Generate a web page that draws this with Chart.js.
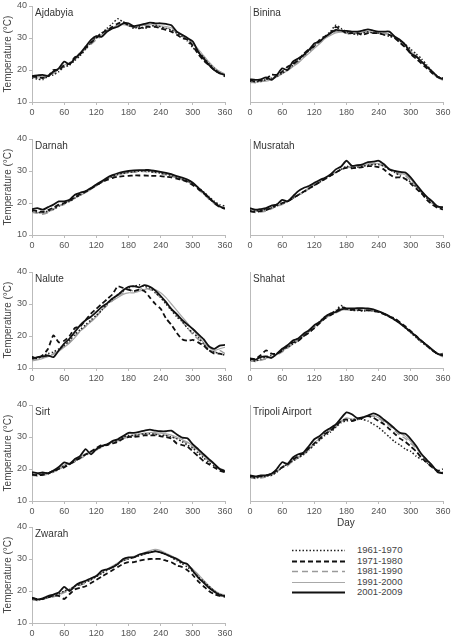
<!DOCTYPE html>
<html>
<head>
<meta charset="utf-8">
<script src="https://cdn.jsdelivr.net/npm/chart.js@4.4.1/dist/chart.umd.min.js"></script>
<style>
  body { margin: 0; background: #fff; width: 453px; height: 639px; position: relative; overflow: hidden;
         font-family: "Liberation Sans", Arial, sans-serif; color: #333; }
  canvas { position: absolute; }
  .name { position: absolute; font-size: 10px; line-height: 12px; color: #333; white-space: nowrap; }
  .day { position: absolute; font-size: 10px; color: #333; }
  .legend { position: absolute; left: 290px; top: 545px; width: 140px; font-size: 9.5px; color: #444; }
  .legend div { height: 10.5px; line-height: 10.5px; position: relative; }
  .legend svg { position: absolute; left: 0; top: 0; }
  .legend span { position: absolute; left: 67px; top: 0; white-space: nowrap; }
</style>
</head>
<body>
<div class="legend" id="legend"></div>
<script>
const days = [0,10,20,30,40,50,60,70,80,90,100,110,120,130,140,150,160,170,180,190,200,210,220,230,240,250,260,270,280,290,300,310,320,330,340,350,360];
const periods = ['1961-1970', '1971-1980', '1981-1990', '1991-2000', '2001-2009'];

// Ajdabyia
const ajd1961 = [17.5,17.2,17.0,18.0,18.5,19.5,21.0,21.5,23.0,24.5,26.5,28.5,30.5,31.5,33.0,34.5,36.0,35.0,34.0,33.0,33.5,33.0,33.5,34.0,33.5,33.0,32.5,31.5,30.5,29.0,27.0,25.5,24.0,22.0,20.5,19.0,18.5];
const ajd1971 = [18.0,17.8,17.5,18.0,20.0,20.0,21.5,22.0,24.0,25.0,27.0,28.5,30.0,31.5,32.5,33.5,34.5,35.0,34.0,33.5,33.0,33.5,33.5,33.5,33.0,32.5,32.0,31.0,30.0,29.5,27.5,25.0,23.0,21.5,20.0,19.0,18.0];
const ajd1981 = [17.8,17.5,17.8,18.2,19.0,20.0,21.0,22.0,23.5,25.5,26.5,28.0,29.5,30.5,32.0,33.0,34.0,34.5,34.0,33.5,33.5,34.0,34.0,33.5,33.5,33.0,33.0,31.5,30.5,29.5,28.0,26.0,24.0,22.0,20.5,19.5,18.5];
const ajd1991 = [17.6,17.8,18.0,18.4,19.2,20.2,21.5,22.3,23.2,24.8,26.8,28.8,30.0,31.0,32.5,33.2,34.0,34.2,33.8,33.2,33.8,34.0,34.2,34.0,33.8,33.6,33.2,32.0,30.8,29.8,28.2,26.5,24.5,22.5,20.8,19.5,18.8];
const ajd2001 = [18.1,18.3,18.5,18.1,19.5,20.5,22.6,21.8,23.6,25.2,27.3,29.4,30.6,30.4,32.0,33.0,33.5,34.6,34.6,33.7,34.0,34.4,34.8,34.6,34.6,34.4,34.0,32.0,31.0,30.0,28.9,25.7,23.6,21.6,20.0,19.0,18.4];

// Binina
const bin1961 = [16.5,16.3,16.5,17.0,17.5,18.0,19.0,20.0,21.5,23.0,24.5,26.0,27.5,29.0,30.5,32.0,34.0,33.0,32.0,31.5,31.0,31.5,32.0,31.5,31.5,31.0,30.5,30.0,29.0,28.0,26.5,25.0,23.5,21.5,19.5,18.0,17.5];
const bin1971 = [16.8,16.5,16.8,17.2,18.5,18.5,19.5,21.0,22.0,23.0,25.0,26.5,27.5,29.5,30.5,31.5,33.5,32.5,31.5,31.5,31.5,31.0,31.5,31.5,31.5,31.0,31.0,30.0,28.5,27.0,25.0,23.5,22.0,20.5,19.0,17.8,17.2];
const bin1981 = [16.2,16.0,16.3,16.8,17.2,18.0,19.2,20.2,21.2,22.5,24.0,25.5,27.2,28.5,30.0,31.2,32.0,32.0,31.5,31.2,31.5,32.0,32.0,31.8,31.5,31.5,31.2,30.5,29.2,27.8,26.0,24.5,22.8,21.0,19.2,17.8,17.0];
const bin1991 = [16.0,16.2,16.4,16.5,17.0,17.8,18.8,19.8,21.0,22.2,23.8,25.2,26.8,28.2,29.8,30.8,31.6,31.8,31.6,31.4,31.6,31.8,31.9,31.8,31.6,31.4,31.0,30.2,29.0,27.5,25.8,24.2,22.5,20.8,19.0,17.6,16.8];
const bin2001 = [17.1,16.9,17.1,17.7,16.9,18.4,20.5,20.0,22.6,23.6,24.7,26.3,28.3,28.9,30.4,31.5,32.5,32.3,32.2,32.0,32.0,32.3,32.7,32.3,32.0,32.0,32.0,30.4,29.4,27.8,25.2,24.2,22.6,21.0,19.5,17.9,17.1];

// Darnah
const dar1961 = [17.5,17.2,17.0,17.5,18.0,19.0,19.8,20.5,21.5,22.5,23.5,24.5,25.5,26.5,27.5,28.3,29.0,29.3,29.5,29.8,30.0,30.0,29.8,29.6,29.3,29.0,28.6,28.0,27.4,26.8,26.0,24.8,23.5,22.0,20.5,19.5,19.0];
const dar1971 = [17.8,17.5,17.2,17.8,18.5,19.5,20.0,20.8,21.8,22.8,23.5,24.5,25.5,26.5,27.2,27.8,28.2,28.4,28.5,28.6,28.6,28.6,28.5,28.5,28.4,28.2,28.0,27.6,27.2,26.6,25.6,24.4,23.0,21.5,20.0,18.8,18.2];
const dar1981 = [17.2,16.8,16.5,17.0,18.0,19.0,19.5,20.5,21.5,22.5,23.5,24.5,25.5,26.5,27.5,28.2,28.8,29.2,29.5,29.6,29.8,29.8,29.6,29.5,29.2,28.8,28.4,27.8,27.2,26.5,25.5,24.2,22.8,21.2,19.8,18.8,18.2];
const dar1991 = [17.0,17.0,16.8,17.2,18.2,19.2,19.8,20.6,21.6,22.4,23.2,24.2,25.4,26.4,27.4,28.2,28.8,29.4,29.6,29.9,30.0,30.0,29.9,29.8,29.5,29.1,28.7,28.1,27.5,26.9,25.9,24.6,23.1,21.6,20.1,19.0,18.4];
const dar2001 = [18.1,18.4,17.9,18.7,19.5,20.5,20.5,21.0,22.6,23.2,23.7,24.7,25.8,26.8,27.9,28.7,29.3,29.7,30.0,30.2,30.3,30.3,30.3,30.0,29.7,29.4,29.0,28.4,27.9,27.3,26.3,24.8,23.3,21.7,20.2,18.9,18.3];

// Musratah
const mus1961 = [17.8,17.5,17.8,18.0,18.5,19.0,19.8,20.5,21.5,22.5,23.5,24.5,25.5,26.5,27.5,28.5,29.5,30.5,31.5,31.0,31.2,31.5,31.8,32.0,32.0,31.5,30.5,29.5,28.5,27.5,26.5,25.0,23.0,21.5,20.0,19.0,18.5];
const mus1971 = [17.5,17.2,17.5,17.8,18.5,19.5,20.0,20.5,21.5,22.5,23.5,24.5,25.5,26.5,27.5,28.5,29.5,30.5,31.0,30.8,31.0,31.2,31.5,31.5,31.2,30.5,29.0,28.0,28.0,27.5,26.0,24.5,23.0,21.0,19.5,18.5,18.0];
const mus1981 = [17.2,17.0,17.2,17.5,18.2,19.0,19.5,20.5,21.5,22.5,23.2,24.5,25.8,26.8,27.8,28.8,29.8,30.5,31.0,31.2,31.5,31.8,32.0,32.2,32.0,31.5,30.5,29.5,29.0,28.5,27.0,25.0,23.2,21.5,20.0,18.8,18.2];
const mus1991 = [17.6,17.4,17.6,17.9,18.4,19.2,19.8,20.4,21.4,22.6,23.6,24.8,25.8,26.8,27.8,28.6,29.6,30.4,31.2,31.4,31.6,31.9,32.2,32.4,32.3,31.8,30.8,30.0,29.4,28.8,27.4,25.4,23.6,21.8,20.2,19.0,18.4];
const mus2001 = [18.4,17.9,18.1,18.4,19.2,19.5,21.0,20.5,22.1,23.7,24.7,25.3,26.3,27.2,27.9,28.9,30.5,31.4,33.2,31.6,31.8,32.1,32.8,32.9,33.2,32.1,30.5,30.0,29.7,29.5,27.9,25.8,23.7,21.9,20.5,18.9,18.7];

// Nalute
const nal1961 = [13.5,13.0,13.8,14.5,15.0,16.0,17.0,18.5,20.5,22.0,23.5,25.0,26.5,28.0,30.0,31.5,33.0,34.0,35.0,35.5,36.0,35.5,35.0,33.5,32.0,30.0,28.0,26.0,24.5,22.5,21.0,19.5,17.5,15.5,15.0,14.5,14.0];
const nal1971 = [13.5,13.0,14.0,16.0,20.2,18.0,18.5,20.0,22.5,23.0,25.0,27.0,28.5,30.0,31.5,33.0,35.5,35.0,34.5,34.0,34.5,34.0,32.0,30.0,28.5,25.5,23.5,21.0,19.0,18.5,18.8,18.0,17.0,15.5,14.5,14.5,14.0];
const nal1981 = [12.5,12.8,13.2,13.8,14.5,15.5,16.8,18.0,20.0,21.5,23.0,24.5,26.0,28.0,29.5,31.0,32.5,33.5,34.5,34.0,34.5,35.0,34.5,33.5,32.0,30.5,28.5,26.5,24.5,22.5,20.5,19.0,17.5,16.0,15.0,15.5,14.5];
const nal1991 = [12.2,12.5,13.0,13.5,14.2,15.2,16.5,17.8,19.5,21.5,23.0,24.5,26.0,28.5,30.0,31.0,32.0,33.0,33.5,33.5,34.0,34.5,35.0,34.5,33.5,32.0,30.0,28.0,26.0,24.0,22.0,20.0,18.0,16.5,15.5,16.0,16.5];
const nal2001 = [12.9,13.4,13.6,13.9,13.4,15.5,17.6,19.2,21.3,23.4,24.9,26.0,27.5,29.1,30.2,31.7,32.8,34.3,35.4,35.6,35.2,35.9,35.4,34.2,32.5,30.6,28.4,26.8,25.0,23.6,22.2,20.6,19.0,16.8,16.0,17.0,17.2];

// Shahat
const sha1961 = [12.5,12.2,12.8,13.5,14.0,14.5,15.5,16.5,17.5,18.5,20.0,21.5,23.0,24.5,26.0,27.0,28.0,29.5,28.5,28.0,28.0,27.8,28.0,27.8,27.5,27.0,26.0,25.0,24.0,22.5,21.0,19.5,18.0,17.0,15.5,14.5,14.5];
const sha1971 = [13.0,12.8,14.0,15.5,14.5,14.5,15.5,17.0,18.0,18.5,20.0,21.0,22.5,24.0,25.5,26.5,27.5,29.0,28.5,28.2,28.2,28.0,28.0,27.8,27.5,26.8,26.0,25.5,24.2,23.0,21.5,20.0,18.5,17.0,15.5,14.5,14.0];
const sha1981 = [12.2,12.0,12.4,12.8,13.2,14.0,15.0,16.2,17.5,18.5,19.8,21.0,22.5,24.0,25.5,26.5,27.2,28.0,28.2,28.0,28.2,28.3,28.2,28.0,27.5,26.8,26.0,25.0,23.8,22.5,21.0,19.5,18.0,16.8,15.5,14.2,13.5];
const sha1991 = [12.0,12.2,12.5,13.0,13.5,14.2,15.2,16.5,17.8,18.8,20.0,21.2,22.8,24.2,25.6,26.6,27.4,28.0,28.4,28.4,28.6,28.6,28.4,28.2,27.6,27.0,26.2,25.2,24.0,22.8,21.4,20.0,18.6,17.2,15.8,14.6,14.0];
const sha2001 = [12.9,12.6,13.4,13.6,13.2,14.4,16.0,17.1,18.6,19.2,20.7,21.8,23.4,24.4,26.0,27.0,27.5,28.3,28.6,28.6,28.7,28.7,28.6,28.3,27.7,27.0,26.2,25.1,23.9,22.6,21.3,19.9,18.4,17.1,15.7,14.4,13.9];

// Sirt
const sir1961 = [18.5,18.2,18.5,18.8,19.2,20.0,21.0,21.5,22.5,23.5,24.5,25.5,26.0,27.0,27.5,28.5,29.0,30.0,30.5,30.5,30.8,31.0,31.0,30.8,30.5,30.5,30.0,29.5,28.5,27.5,26.5,25.0,23.5,22.0,21.0,20.0,19.5];
const sir1971 = [18.2,18.0,18.2,18.5,19.5,20.0,20.5,21.5,22.5,23.5,24.5,25.5,26.5,27.5,27.5,28.0,28.5,29.5,30.0,30.0,30.2,30.5,30.5,30.5,30.2,30.0,29.5,28.0,27.5,27.0,25.5,24.0,22.5,21.5,20.5,19.5,19.0];
const sir1981 = [18.0,17.8,18.0,18.4,19.0,19.8,20.8,21.5,22.2,23.2,24.2,25.2,26.0,26.8,27.5,28.2,28.8,29.5,30.0,30.2,30.5,30.8,31.0,31.0,30.8,30.5,30.2,29.5,28.8,28.0,26.8,25.5,24.0,22.5,21.0,19.8,19.2];
const sir1991 = [18.4,18.3,18.5,18.6,19.2,20.2,21.2,21.8,22.8,23.8,24.8,25.4,26.2,27.0,27.6,28.4,29.0,29.8,30.4,30.6,30.9,31.2,31.4,31.4,31.2,31.0,30.6,30.0,29.2,28.4,27.2,25.8,24.2,22.8,21.4,20.2,19.6];
const sir2001 = [19.0,18.7,18.9,18.7,19.5,20.6,22.1,21.6,23.1,24.1,26.2,24.6,26.2,27.2,27.7,28.7,29.3,30.3,31.3,31.3,31.6,32.0,32.3,32.0,31.8,31.8,32.0,30.8,29.8,29.6,27.7,26.2,24.6,23.1,21.6,20.0,19.3];

// Tripoli Airport
const tri1961 = [17.5,17.2,17.5,17.8,18.0,19.0,20.5,21.5,22.5,23.5,24.5,26.0,27.5,29.0,30.5,31.5,33.0,34.5,35.0,35.5,35.5,35.5,35.0,34.0,33.0,31.5,30.0,28.5,27.5,26.2,25.5,24.0,23.0,22.0,20.5,19.5,20.0];
const tri1971 = [17.8,17.5,17.8,18.0,18.5,19.5,20.5,21.5,23.0,24.0,25.0,26.5,28.0,29.5,31.0,32.0,33.5,35.0,35.5,35.0,35.5,36.0,36.5,36.0,35.0,34.0,32.5,31.0,29.5,28.5,27.0,25.5,23.5,22.0,20.5,19.5,19.0];
const tri1981 = [17.2,17.0,17.2,17.5,18.0,19.0,20.5,21.0,22.5,23.5,24.5,26.0,27.8,29.2,30.8,32.0,33.2,34.8,35.5,35.2,35.5,36.0,36.5,36.5,35.8,34.8,33.5,32.0,30.5,29.5,28.0,26.5,24.5,22.5,20.8,19.2,18.5];
const tri1991 = [17.4,17.3,17.5,17.8,18.2,19.2,20.8,21.4,22.8,23.8,24.8,26.4,28.2,29.6,31.0,32.2,33.4,35.0,36.0,35.6,35.6,36.2,36.8,36.8,36.0,35.0,33.8,32.4,31.2,30.2,28.6,26.8,24.8,22.8,21.0,19.4,18.8];
const tri2001 = [18.0,17.7,18.0,18.0,18.5,20.0,22.1,21.6,23.6,24.6,25.2,27.2,29.3,30.3,31.8,32.8,33.9,35.9,37.7,37.1,35.9,36.1,36.7,37.4,36.7,35.4,34.1,32.6,31.3,31.0,29.3,27.2,24.6,22.8,21.1,19.0,18.7];

// Zwarah
const zwa1961 = [17.5,17.2,17.5,18.0,18.5,19.0,20.0,20.5,21.5,22.0,22.8,23.5,24.5,25.5,26.5,27.5,28.5,29.5,30.0,30.5,31.0,31.5,32.0,32.5,32.0,31.5,30.5,29.5,28.5,27.5,26.0,24.5,23.0,21.5,20.0,19.0,18.5];
const zwa1971 = [17.8,17.5,17.5,18.0,18.5,18.5,17.5,19.0,20.5,21.0,21.5,22.5,23.5,24.5,25.5,26.5,27.5,28.5,29.0,29.0,29.5,29.8,30.0,30.0,30.0,29.5,29.0,28.0,27.5,26.5,25.0,23.0,21.5,20.0,19.0,18.5,18.2];
const zwa1981 = [17.2,17.0,17.4,17.8,18.2,18.8,19.5,20.2,21.0,21.8,22.5,23.5,24.5,25.5,26.5,27.5,28.5,29.5,30.0,30.5,31.0,31.5,32.0,32.5,32.2,31.5,30.8,30.0,29.0,28.0,26.8,25.0,23.2,21.5,20.0,19.0,18.5];
const zwa1991 = [17.4,17.2,17.5,17.9,18.4,19.0,19.8,20.6,21.4,22.2,23.0,23.8,24.8,25.8,26.8,27.8,28.8,29.8,30.4,30.8,31.4,32.0,32.6,33.0,32.6,31.8,31.0,30.2,29.2,28.2,26.8,25.2,23.4,21.6,20.2,19.2,18.8];
const zwa2001 = [17.9,17.4,17.7,18.4,18.9,19.5,21.3,20.0,21.6,22.6,23.2,24.0,24.7,26.3,26.8,27.4,28.4,30.0,30.5,30.5,31.4,31.8,32.1,32.4,32.1,31.4,30.7,30.0,28.9,28.4,26.3,24.2,22.6,21.0,19.8,18.7,18.4];

const yTicks = [10, 20, 30, 40];
const xTicks = [0, 60, 120, 180, 240, 300, 360];

// line style per period: dotted, dashed black, dashed grey, grey, black
const styles = [
  { color: '#222', width: 1.5, dash: [1.5, 2], order: 2 },
  { color: '#111', width: 1.8, dash: [5, 3], order: 1 },
  { color: '#9a9a9a', width: 1.4, dash: [6, 4], order: 3 },
  { color: '#a8a8a8', width: 1.2, dash: [], order: 4 },
  { color: '#111', width: 1.8, dash: [], order: 0 }
];

const panels = [
  { name: 'Ajdabyia', col: 0, top: 6, series: [ajd1961, ajd1971, ajd1981, ajd1991, ajd2001] },
  { name: 'Binina', col: 1, top: 6, series: [bin1961, bin1971, bin1981, bin1991, bin2001] },
  { name: 'Darnah', col: 0, top: 139, series: [dar1961, dar1971, dar1981, dar1991, dar2001] },
  { name: 'Musratah', col: 1, top: 139, series: [mus1961, mus1971, mus1981, mus1991, mus2001] },
  { name: 'Nalute', col: 0, top: 272, series: [nal1961, nal1971, nal1981, nal1991, nal2001] },
  { name: 'Shahat', col: 1, top: 272, series: [sha1961, sha1971, sha1981, sha1991, sha2001] },
  { name: 'Sirt', col: 0, top: 405, series: [sir1961, sir1971, sir1981, sir1991, sir2001] },
  { name: 'Tripoli Airport', col: 1, top: 405, series: [tri1961, tri1971, tri1981, tri1991, tri2001] },
  { name: 'Zwarah', col: 0, top: 527, series: [zwa1961, zwa1971, zwa1981, zwa1991, zwa2001] }
];

const plotH = 96;
const tickFont = { family: '"Liberation Sans", Arial, sans-serif', size: 9 };

panels.forEach(p => {
  const left = p.col === 0 ? 0 : 232;
  const width = p.col === 0 ? 232 : 221;
  const yw = p.col === 0 ? 32 : 18;
  const padR = p.col === 0 ? 7 : 10;
  const cv = document.createElement('canvas');
  cv.style.left = left + 'px';
  cv.style.top = (p.top - 6) + 'px';
  cv.style.width = width + 'px';
  cv.style.height = (plotH + 22) + 'px';
  cv.width = width;
  cv.height = plotH + 22;
  document.body.appendChild(cv);

  const name = document.createElement('div');
  name.className = 'name';
  name.textContent = p.name;
  name.style.left = (left + yw + 3) + 'px';
  name.style.top = (p.top + 1) + 'px';
  document.body.appendChild(name);

  new Chart(cv, {
    type: 'line',
    data: {
      datasets: p.series.map((s, i) => ({
        label: periods[i],
        data: days.map((d, k) => ({ x: d, y: s[k] })),
        borderColor: styles[i].color,
        borderWidth: styles[i].width,
        borderDash: styles[i].dash,
        order: styles[i].order,
        pointRadius: 0,
        tension: 0.2,
        fill: false
      }))
    },
    options: {
      responsive: false,
      animation: false,
      events: [],
      layout: { padding: { top: 6, right: padR, bottom: 0, left: 0 } },
      plugins: { legend: { display: false }, tooltip: { enabled: false } },
      scales: {
        x: {
          type: 'linear', min: 0, max: 360,
          afterBuildTicks: s => { s.ticks = xTicks.map(v => ({ value: v })); },
          afterFit: s => { s.height = 16; s.paddingLeft = 0; s.paddingRight = 0; },
          grid: { drawOnChartArea: false, tickLength: 3, color: '#bbb' },
          border: { color: '#bbb' },
          ticks: { font: tickFont, color: '#555', padding: 2, maxRotation: 0 }
        },
        y: {
          min: 10, max: 40,
          afterBuildTicks: s => { s.ticks = yTicks.map(v => ({ value: v })); },
          afterFit: s => { s.width = yw; s.paddingTop = 0; s.paddingBottom = 0; },
          grid: { drawOnChartArea: false, tickLength: 3, color: p.col === 0 ? '#bbb' : 'rgba(0,0,0,0)' },
          border: { color: '#bbb' },
          ticks: { display: p.col === 0, font: tickFont, color: '#555', padding: 2 },
          title: {
            display: p.col === 0, text: 'Temperature (°C)', color: '#444',
            font: { family: '"Liberation Sans", Arial, sans-serif', size: 10 },
            padding: { top: 2, bottom: 0 }
          }
        }
      }
    }
  });
});

const day = document.createElement('div');
day.className = 'day';
day.textContent = 'Day';
day.style.left = '337px';
day.style.top = '517px';
document.body.appendChild(day);

const legend = document.getElementById('legend');
periods.forEach((lab, i) => {
  const row = document.createElement('div');
  const st = styles[i];
  row.innerHTML = '<svg width="56" height="10.5"><line x1="2" y1="5.5" x2="55" y2="5.5" stroke="' + st.color +
    '" stroke-width="' + st.width + '" stroke-dasharray="' + st.dash.join(' ') + '"/></svg><span>' + lab + '</span>';
  legend.appendChild(row);
});
</script>
</body>
</html>
